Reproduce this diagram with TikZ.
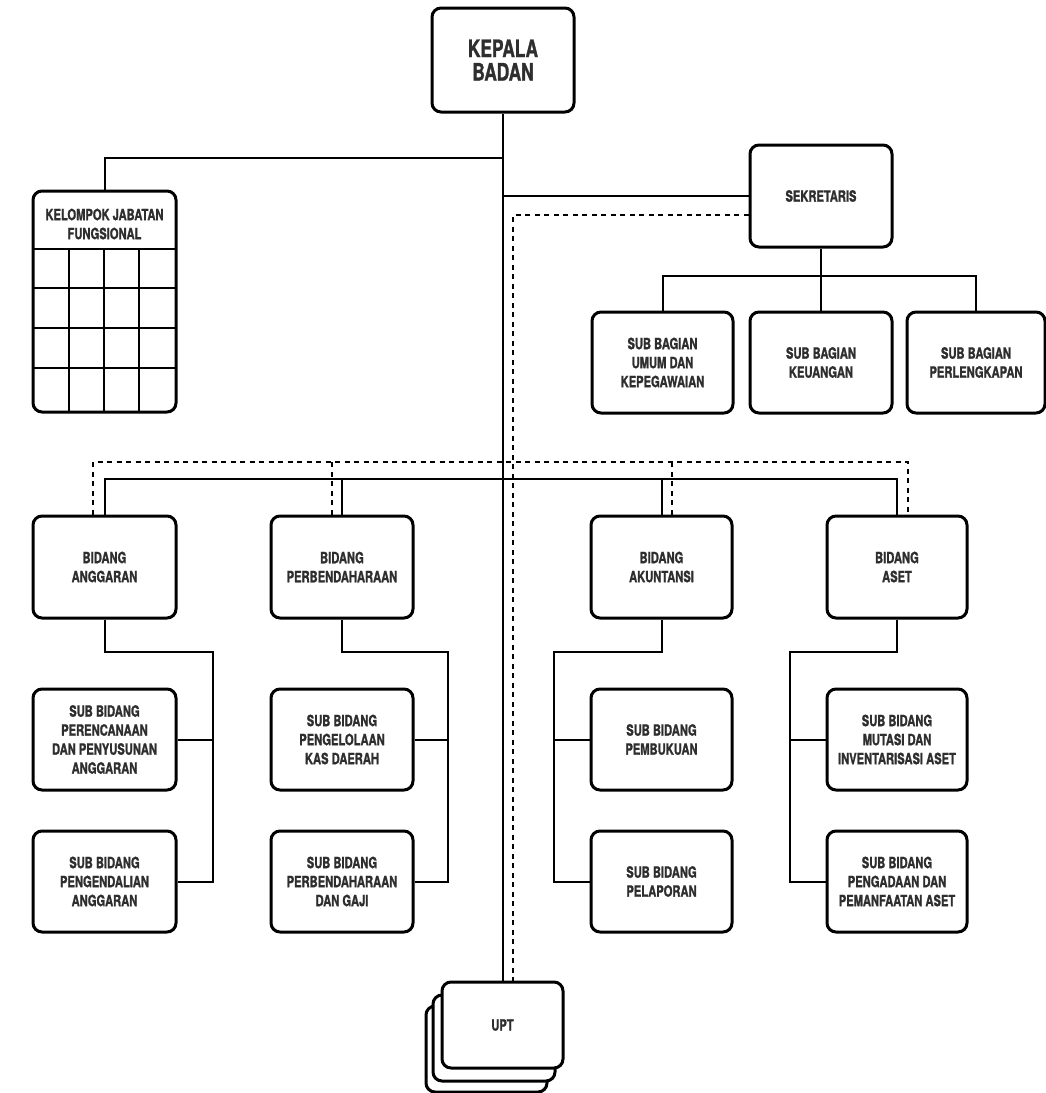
\documentclass[tikz,border=0pt]{standalone}
\usepackage{fontspec}
\newfontfamily\orgfont{TeX Gyre Heros}[FakeStretch=0.72, BoldFeatures={FakeBold=1.3}]
\definecolor{txtgray}{HTML}{2E2E2E}
\begin{document}
\begin{tikzpicture}[x=1pt,y=-1pt,
  box/.style={draw=black, line width=3pt, rounded corners=9pt, fill=white, align=center,
    inner sep=0pt, text=txtgray, font=\orgfont\bfseries\fontsize{15.5}{19}\selectfont},
  big/.style={font=\orgfont\bfseries\fontsize{24}{23.5}\selectfont},
  conn/.style={line width=2pt},
  gridline/.style={line width=2pt},
  dashline/.style={line width=1.4pt, dash pattern=on 5pt off 4.5pt}]
\useasboundingbox (0,0) rectangle (1046,1093);
\fill[white] (0,0) rectangle (1046,1093);

% top
\node[box, big, minimum width=142pt, minimum height=104pt] (kepala) at (503,60) {KEPALA\\BADAN};
\node[box, minimum width=143pt, minimum height=221pt] (kjf) at (104.5,301.5) {};
\node[align=center, inner sep=0pt, text=txtgray, font=\orgfont\bfseries\fontsize{15.5}{19}\selectfont] (kjft) at (104.5,224) {KELOMPOK JABATAN\\FUNGSIONAL};
\foreach \yy in {249,288,328,368} \draw[gridline] (33,\yy) -- (176,\yy);
\foreach \xx in {69,104,139} \draw[gridline] (\xx,249) -- (\xx,412);

\node[box, minimum width=142pt, minimum height=102pt] (sek) at (821,196) {SEKRETARIS};
\node[box, minimum width=141pt, minimum height=101pt] (sb1) at (662.5,362.5) {SUB BAGIAN\\UMUM DAN\\KEPEGAWAIAN};
\node[box, minimum width=142pt, minimum height=101pt] (sb2) at (821,362.5) {SUB BAGIAN\\KEUANGAN};
\node[box, minimum width=138pt, minimum height=101pt] (sb3) at (976,362.5) {SUB BAGIAN\\PERLENGKAPAN};

% bidang
\node[box, minimum width=143pt, minimum height=102pt] (b1) at (104.5,567) {BIDANG\\ANGGARAN};
\node[box, minimum width=142pt, minimum height=102pt] (b2) at (342,567) {BIDANG\\PERBENDAHARAAN};
\node[box, minimum width=141pt, minimum height=102pt] (b3) at (661.5,567) {BIDANG\\AKUNTANSI};
\node[box, minimum width=140pt, minimum height=102pt] (b4) at (897,567) {BIDANG\\ASET};

% sub bidang
\node[box, minimum width=143pt, minimum height=101pt] (s1a) at (104.5,739.5) {SUB BIDANG\\PERENCANAAN\\DAN PENYUSUNAN\\ANGGARAN};
\node[box, minimum width=143pt, minimum height=101pt] (s1b) at (104.5,881.5) {SUB BIDANG\\PENGENDALIAN\\ANGGARAN};
\node[box, minimum width=142pt, minimum height=101pt] (s2a) at (342,739.5) {SUB BIDANG\\PENGELOLAAN\\KAS DAERAH};
\node[box, minimum width=142pt, minimum height=101pt] (s2b) at (342,881.5) {SUB BIDANG\\PERBENDAHARAAN\\DAN GAJI};
\node[box, minimum width=141pt, minimum height=101pt] (s3a) at (661.5,739.5) {SUB BIDANG\\PEMBUKUAN};
\node[box, minimum width=141pt, minimum height=101pt] (s3b) at (661.5,881.5) {SUB BIDANG\\PELAPORAN};
\node[box, minimum width=140pt, minimum height=101pt] (s4a) at (897,739.5) {SUB BIDANG\\MUTASI DAN\\INVENTARISASI ASET};
\node[box, minimum width=140pt, minimum height=101pt] (s4b) at (897,881.5) {SUB BIDANG\\PENGADAAN DAN\\PEMANFAATAN ASET};

% UPT stack
\node[box, minimum width=121pt, minimum height=86pt] (upt3) at (486.5,1049) {};
\node[box, minimum width=122pt, minimum height=86pt] (upt2) at (494,1038) {};
\node[box, minimum width=121pt, minimum height=86pt] (upt) at (502.5,1025) {UPT};

% coordinates
\coordinate (yk) at (0,158);
\coordinate (dx) at (513,215);
\coordinate (ys) at (0,276);
\coordinate (yb) at (0,479);
\coordinate (yd) at (0,462);
\coordinate (k1) at (213,652);
\coordinate (k2) at (448,652);
\coordinate (k3) at (554,652);
\coordinate (k4) at (790,652);

% connectors
\draw[conn] (kepala.south) -- (kepala.south |- upt.north);
\draw[conn] (kjf.north) |- (kepala.south |- yk);
\draw[conn] (sek.west) -- (sek.west -| kepala.south);
\draw[dashline] (sek.west |- dx) -- (dx) -- (dx |- upt.north);

\draw[conn] (sek.south) -- (sb2.north);
\draw[conn] (sb1.north) |- (sb3.north |- ys) -- (sb3.north);

\draw[conn] (b1.north) |- (b4.north |- yb) -- (b4.north);
\draw[conn] (b2.north) -- (b2.north |- yb);
\draw[conn] (b3.north) -- (b3.north |- yb);
\draw[dashline] ([xshift=-11.5pt]b1.north) |- ([xshift=11pt]b4.north |- yd) -- ([xshift=11pt]b4.north);
\draw[dashline] ([xshift=-10pt]b2.north) -- ([xshift=-10pt]b2.north |- yd);
\draw[dashline] ([xshift=10.5pt]b3.north) -- ([xshift=10.5pt]b3.north |- yd);

\draw[conn] (b1.south) |- (k1) |- (s1b.east);
\draw[conn] (s1a.east) -- (s1a.east -| k1);
\draw[conn] (b2.south) |- (k2) |- (s2b.east);
\draw[conn] (s2a.east) -- (s2a.east -| k2);
\draw[conn] (b3.south) |- (k3) |- (s3b.west);
\draw[conn] (s3a.west) -- (s3a.west -| k3);
\draw[conn] (b4.south) |- (k4) |- (s4b.west);
\draw[conn] (s4a.west) -- (s4a.west -| k4);
\end{tikzpicture}
\end{document}
